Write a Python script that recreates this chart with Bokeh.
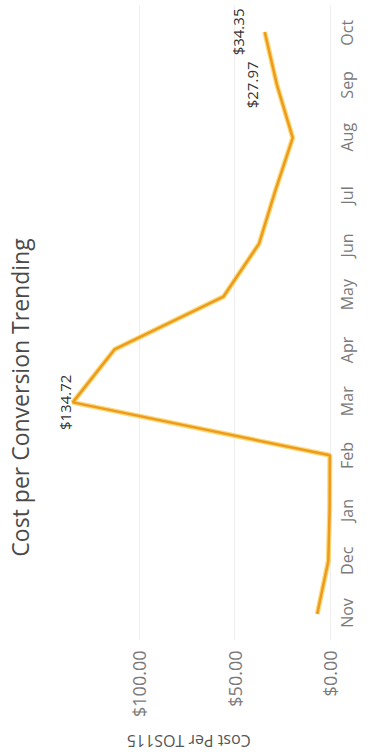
import math

from bokeh.core.properties import value
from bokeh.embed import file_html
from bokeh.layouts import column, row
from bokeh.models import (ColumnDataSource, FixedTicker, LinearAxis,
                          NumeralTickFormatter, Range1d)
from bokeh.plotting import figure
from bokeh.resources import INLINE

# Monthly cost per conversion (USD)
months = ["Nov", "Dec", "Jan", "Feb", "Mar", "Apr", "May", "Jun", "Jul", "Aug", "Sep", "Oct"]
cost = [6.9, 1.1, 0.4, 0.3, 134.72, 112.9, 55.9, 37.3, 28.8, 19.7, 27.97, 34.35]
value_ticks = [0, 50, 100]
labelled_months = ["Mar", "Sep", "Oct"]
chart_title = "Cost per Conversion Trending"
value_title = "Cost Per TOS115"

FONT = "Open Sans"

n = len(months)
month_pos = list(range(n))  # Nov at the bottom, Oct at the top

src = ColumnDataSource(data=dict(pos=month_pos, cost=cost))

lab_idx = [months.index(m) for m in labelled_months]
lab_src = ColumnDataSource(data=dict(
    pos=lab_idx,
    cost=[cost[i] for i in lab_idx],
    text=[f"${cost[i]:,.2f}" for i in lab_idx],
    dx=[2, -15, -17],
))


def text_strip(width, height, text, x, y, angle, size, color):
    """A bare canvas holding one line of rotated text."""
    s = figure(width=width, height=height, x_range=Range1d(0, width), y_range=Range1d(0, height),
               x_axis_location=None, y_axis_location=None,
               output_backend="svg", toolbar_location=None, min_border=0)
    s.outline_line_color = None
    s.grid.visible = False
    s.text(x=[x], y=[y], text=[text], angle=angle,
           text_align="center", text_baseline="middle",
           text_font=value(FONT), text_font_size=size, text_color=color)
    return s


# The chart is laid out turned a quarter turn: months run bottom-to-top,
# cost grows to the left.
p = figure(
    width=334, height=720,
    x_range=Range1d(143.77, -2.66),
    y_range=Range1d(-0.5, n - 0.5),
    x_axis_location="below",
    y_axis_location=None,
    output_backend="svg",
    toolbar_location=None,
    min_border_left=17, min_border_right=32,
    min_border_top=5, min_border_bottom=80,
)
p.outline_line_color = None
p.background_fill_color = "white"

# month axis: rotated labels start at their tick, so the tick positions
# are nudged down by half a label length to centre each name on its month
shift = 0.26
p.extra_y_ranges = {"month_labels": Range1d(-0.5 + shift, n - 0.5 + shift)}
ya = LinearAxis(y_range_name="month_labels",
                ticker=FixedTicker(ticks=month_pos),
                major_label_overrides={i: m for i, m in zip(month_pos, months)})
ya.major_label_orientation = math.pi / 2
ya.axis_line_color = None
ya.major_tick_line_color = None
ya.major_tick_out = 0
ya.major_tick_in = 0
ya.minor_tick_line_color = None
ya.minor_tick_out = 0
ya.major_label_standoff = 12
ya.major_label_text_font = FONT
ya.major_label_text_font_size = "16px"
ya.major_label_text_color = "#7a7a7a"
p.add_layout(ya, "right")

# cost axis
xa = p.xaxis[0]
xa.ticker = FixedTicker(ticks=value_ticks)
xa.formatter = NumeralTickFormatter(format="$0.00")
xa.major_label_orientation = math.pi / 2
xa.axis_line_color = None
xa.major_tick_line_color = None
xa.major_tick_out = 0
xa.major_tick_in = 0
xa.minor_tick_line_color = None
xa.minor_tick_out = 0
xa.major_label_standoff = 10
xa.major_label_text_font = FONT
xa.major_label_text_font_size = "18px"
xa.major_label_text_color = "#7a7a7a"

p.xgrid.ticker = FixedTicker(ticks=value_ticks)
p.xgrid.grid_line_color = "#eeeeee"
p.ygrid.grid_line_color = None

# trend line: soft yellow halo under an orange core
p.line(x="cost", y="pos", source=src, line_color="#F8C93C", line_width=5, line_alpha=0.7)
p.line(x="cost", y="pos", source=src, line_color="#EE9A1E", line_width=2.5)

p.text(x="cost", y="pos", text="text", source=lab_src,
       angle=math.pi / 2, x_offset="dx",
       text_align="center", text_baseline="bottom",
       text_font=value(FONT), text_font_size="15px", text_color="#333333")

# chart title reads bottom-to-top along the left edge
title_strip = text_strip(38, 755, chart_title, 19, 358, math.pi / 2, "23px", "#4a4a4a")
# cost axis title, upside down beneath the tick labels
axis_strip = text_strip(334, 35, value_title, 159, 15, math.pi, "16px", "#555555")

layout = row(title_strip, column(p, axis_strip, spacing=0), spacing=0)

open("out.html", "w").write(file_html(layout, INLINE))
